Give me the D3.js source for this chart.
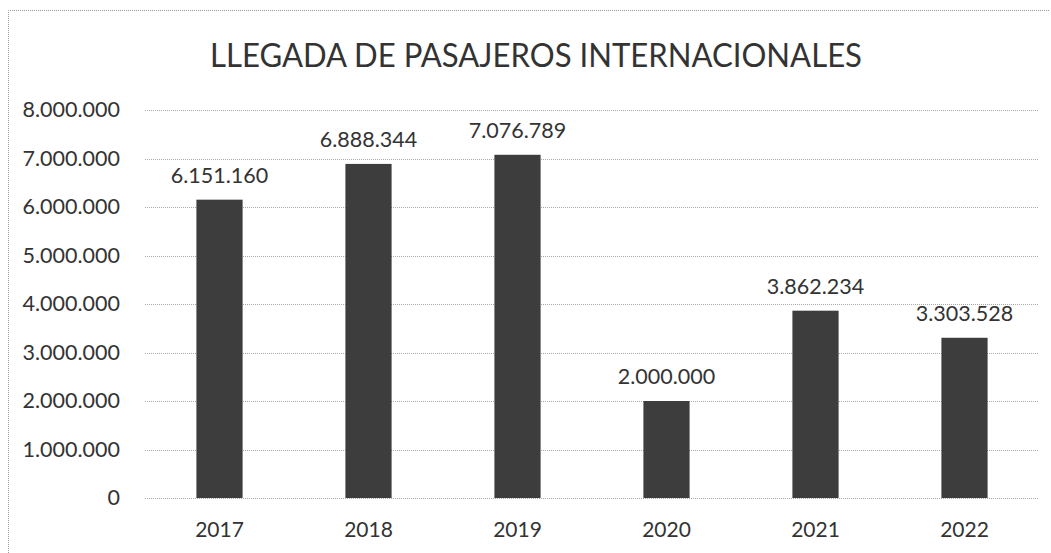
<html>
<head>
<meta charset="utf-8">
<title>Llegada de pasajeros internacionales</title>
<script src="https://d3js.org/d3.v7.min.js"></script>
<style>
  body { margin: 0; background: #fff; }
  text { font-family: Lato, "Open Sans", sans-serif; fill: #333; }
</style>
</head>
<body>
<div id="chart"></div>
<script>
// data
var years = ["2017", "2018", "2019", "2020", "2021", "2022"];
var passengers = [6151160, 6888344, 7076789, 2000000, 3862234, 3303528];
var yTicks = [0, 1000000, 2000000, 3000000, 4000000, 5000000, 6000000, 7000000, 8000000];
var title = "LLEGADA DE PASAJEROS INTERNACIONALES";

var W = 1051, H = 553;
var margin = {top: 110, right: 12, bottom: 55, left: 145};
var width = W - margin.left - margin.right,
    height = H - margin.top - margin.bottom;

var es = d3.formatLocale({decimal: ",", thousands: ".", grouping: [3], currency: ["", ""]});
var fmt = es.format(",d");

var svg = d3.select("#chart").append("svg")
  .attr("width", W).attr("height", H);

// dotted frame (only top and left edges show in the scan)
svg.append("path")
  .attr("d", "M8.5," + H + "V10.5H" + (W - 2))
  .attr("fill", "none")
  .attr("stroke", "#9a9a9a")
  .attr("stroke-dasharray", "1,1");

svg.append("text")
  .attr("x", 536).attr("y", 67)
  .attr("text-anchor", "middle")
  .attr("font-size", 32)
  .attr("textLength", 652)
  .attr("lengthAdjust", "spacingAndGlyphs")
  .text(title);

var g = svg.append("g")
  .attr("transform", "translate(" + margin.left + "," + margin.top + ")");

var x = d3.scaleBand()
  .domain(years)
  .range([0, width])
  .paddingInner(0.69)
  .paddingOuter(0.345);

var y = d3.scaleLinear()
  .domain([0, 8000000])
  .range([height, 0]);

// gridlines
g.append("g")
  .selectAll("line")
  .data(yTicks)
  .enter().append("line")
    .attr("x1", 0).attr("x2", width)
    .attr("y1", function(d) { return Math.round(y(d)) + 0.5; })
    .attr("y2", function(d) { return Math.round(y(d)) + 0.5; })
    .attr("stroke", "#a8a8a8")
    .attr("stroke-width", 1)
    .attr("stroke-dasharray", "1,1");

// y axis labels
var yAxis = g.append("g")
  .call(d3.axisLeft(y).tickValues(yTicks).tickFormat(fmt).tickSize(0).tickPadding(25));
yAxis.select(".domain").remove();
yAxis.selectAll("text")
  .attr("font-size", 21.5)
  .attr("font-family", "Lato, sans-serif")
  .attr("fill", "#333");

// x axis labels
var xAxis = g.append("g")
  .attr("transform", "translate(0," + height + ")")
  .call(d3.axisBottom(x).tickSize(0).tickPadding(24));
xAxis.select(".domain").remove();
xAxis.selectAll("text")
  .attr("font-size", 21)
  .attr("font-family", "Lato, sans-serif")
  .attr("fill", "#333");

// bars
g.selectAll(".bar")
  .data(passengers)
  .enter().append("rect")
    .attr("class", "bar")
    .attr("x", function(d, i) { return x(years[i]); })
    .attr("y", function(d) { return y(d); })
    .attr("width", x.bandwidth())
    .attr("height", function(d) { return height - y(d); })
    .attr("fill", "#3d3d3d");

// value labels
g.selectAll(".val")
  .data(passengers)
  .enter().append("text")
    .attr("class", "val")
    .attr("x", function(d, i) { return x(years[i]) + x.bandwidth() / 2; })
    .attr("y", function(d) { return y(d) - 17; })
    .attr("text-anchor", "middle")
    .attr("font-size", 21.5)
    .text(function(d) { return fmt(d); });
</script>
</body>
</html>
